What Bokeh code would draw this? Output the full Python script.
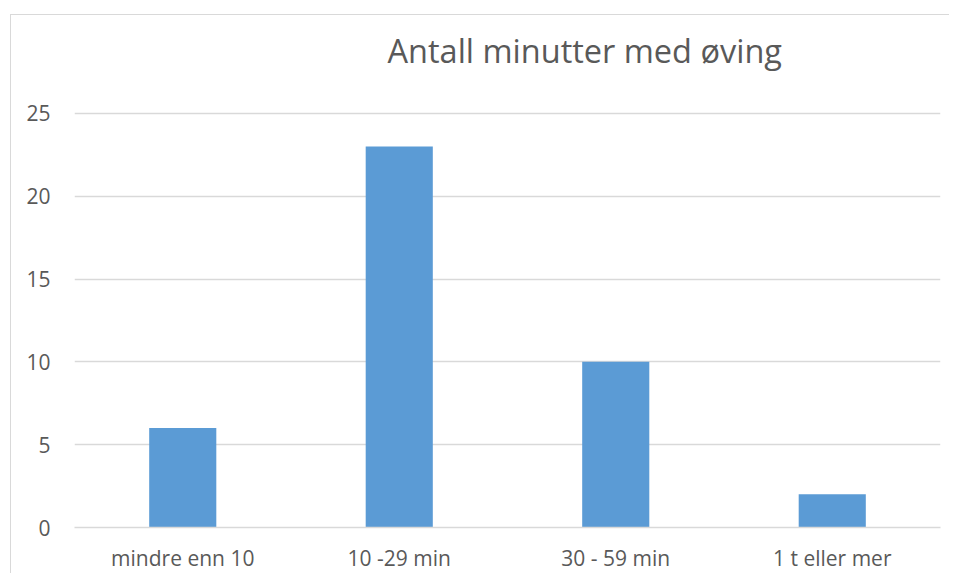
from bokeh.plotting import figure
from bokeh.models import FixedTicker, Range1d, Label
from bokeh.embed import file_html
from bokeh.resources import INLINE

categories = ["mindre enn 10", "10 -29 min", "30 - 59 min", "1 t eller mer"]
values = [6, 23, 10, 2]
y_ticks = [0, 5, 10, 15, 20, 25]
title_text = "Antall minutter med øving"

FONT = "Open Sans"
GRAY = "#595959"
LINE = "#d9d9d9"

# the frame reaches above the top tick so that the title sits inside it
p = figure(x_range=categories, y_range=Range1d(0, 30), width=939, height=559,
           output_backend="svg", toolbar_location=None,
           min_border_left=63, min_border_right=10, min_border_top=15, min_border_bottom=43)
p.margin = (14, 0, 0, 10)
p.styles = {"border-left": f"1px solid {LINE}", "border-top": f"1px solid {LINE}"}

p.vbar(x=categories, top=values, width=0.31, color="#5b9bd5", line_color=None)

title = Label(x=313, y=477, x_units="screen", y_units="screen", text=title_text,
              text_font=FONT, text_font_size="32.5px", text_color=GRAY,
              text_baseline="alphabetic", text_align="left")
p.add_layout(title)

p.outline_line_color = None
p.background_fill_color = "white"
p.border_fill_color = "white"

p.xgrid.grid_line_color = None
p.ygrid.grid_line_color = LINE
p.ygrid.grid_line_width = 1.5
p.yaxis.ticker = FixedTicker(ticks=y_ticks)

p.yaxis.axis_line_color = None
p.yaxis.major_tick_line_color = None
p.yaxis.minor_tick_line_color = None
p.yaxis.major_tick_out = 0
p.yaxis.major_label_standoff = 24
p.yaxis.major_label_text_font = FONT
p.yaxis.major_label_text_font_size = "21px"
p.yaxis.major_label_text_color = GRAY

p.xaxis.axis_line_color = LINE
p.xaxis.axis_line_width = 1.5
p.xaxis.major_tick_line_color = None
p.xaxis.minor_tick_line_color = None
p.xaxis.major_tick_out = 0
p.xaxis.major_label_standoff = 16
p.xaxis.major_label_text_font = FONT
p.xaxis.major_label_text_font_size = "21px"
p.xaxis.major_label_text_color = GRAY

open("out.html", "w").write(file_html(p, INLINE))
